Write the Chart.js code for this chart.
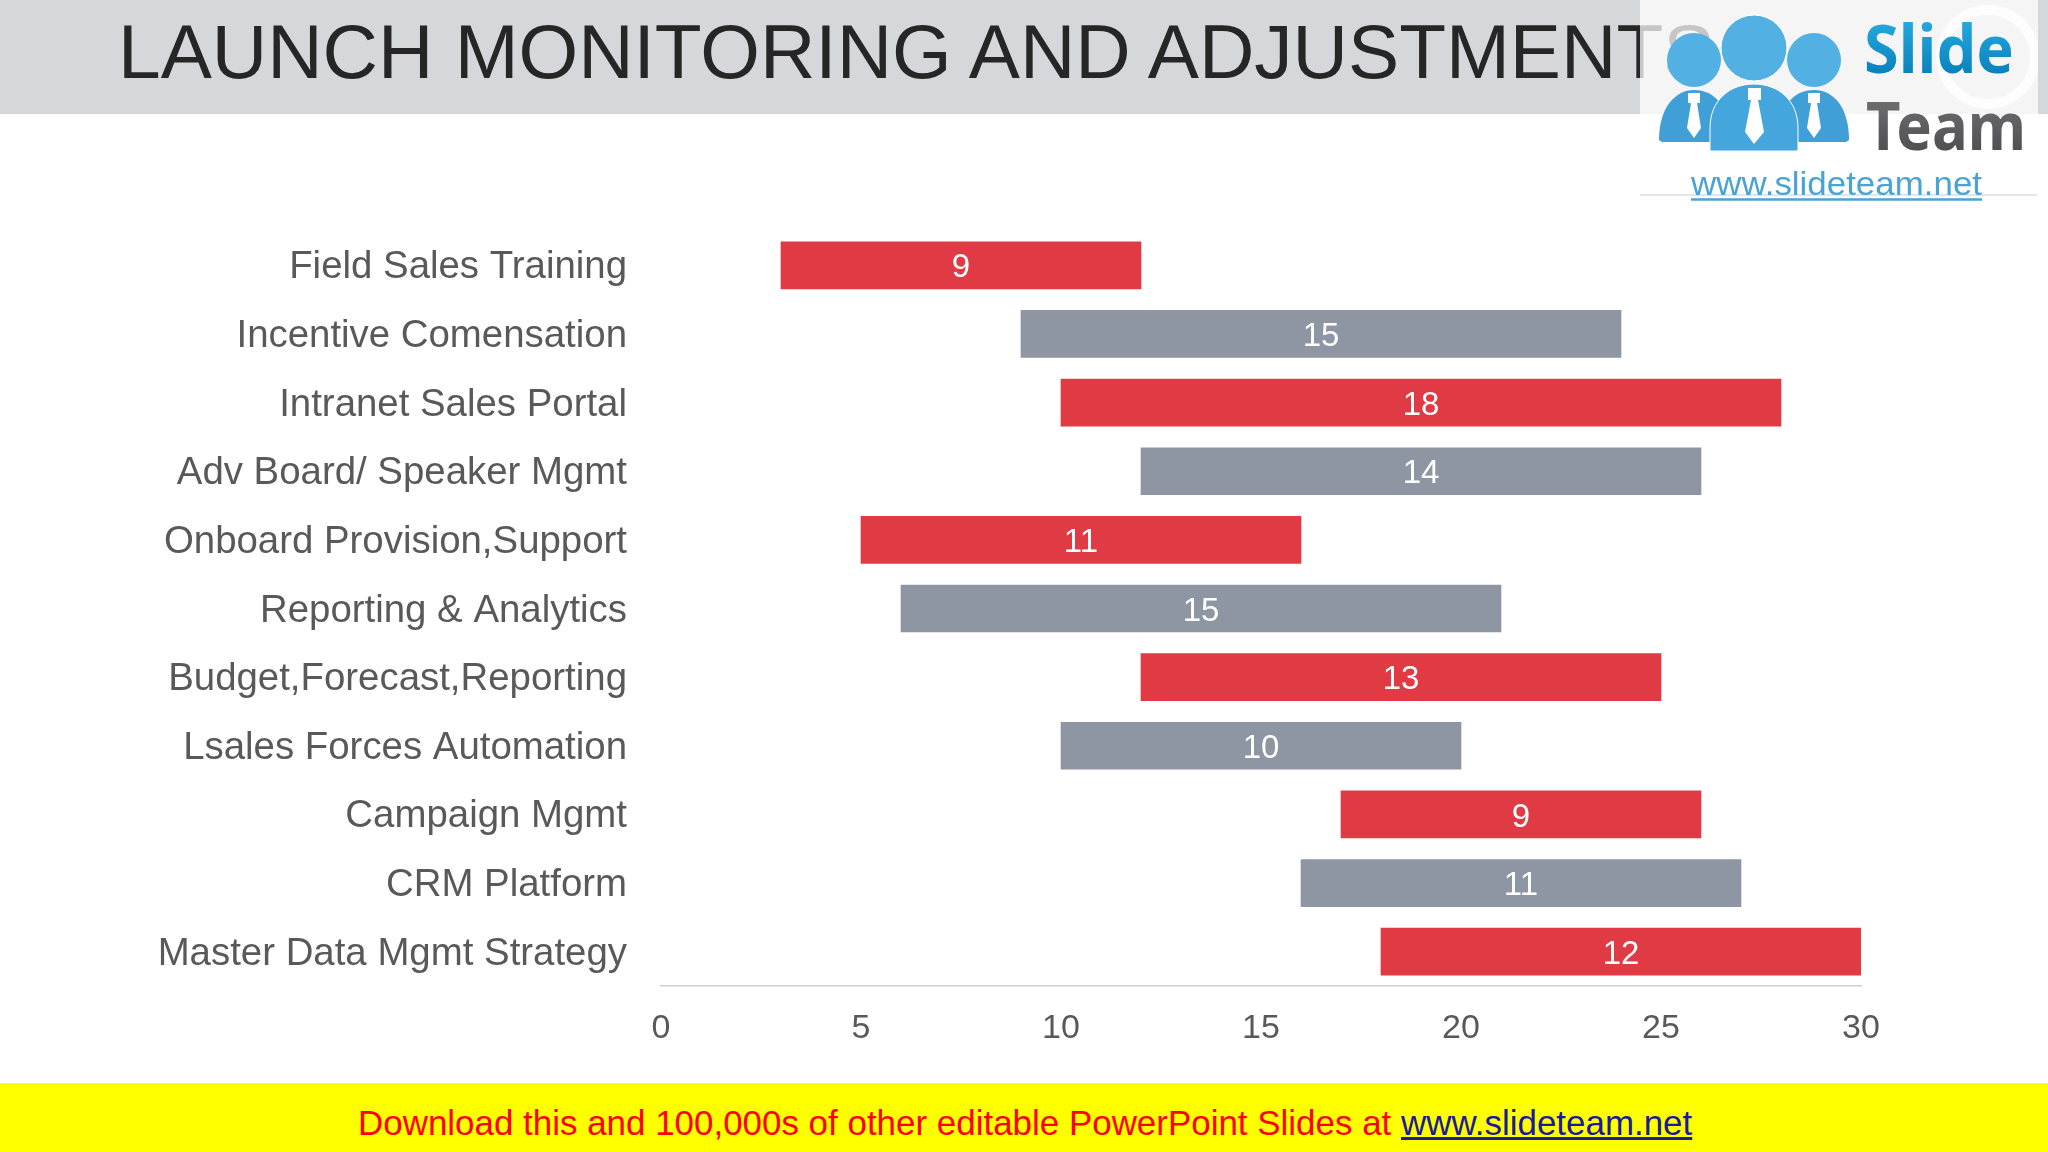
<!DOCTYPE html>
<html>
<head>
<meta charset="utf-8">
<title>Launch Monitoring and Adjustments</title>
<script src="https://cdn.jsdelivr.net/npm/chart.js@4"></script>
<style>
    html, body { margin: 0; padding: 0; background: #fff; }
    body { width: 2048px; height: 1152px; position: relative; overflow: hidden; font-family: "Liberation Sans", Arial, sans-serif; }
    #header { position: absolute; left: 0; top: 0; width: 2048px; height: 114px; background: #d6d7da; }
    #title { position: absolute; left: 118px; top: 8px; font-size: 76.7px; line-height: 88px; color: #262626; white-space: nowrap; }
    #chartBox { position: absolute; left: 0; top: 0; width: 2048px; height: 1083px; }
    #footer { position: absolute; left: 0; top: 1083px; width: 2048px; height: 69px; background: #ffff00; }
    #footerText { position: absolute; left: 358px; top: 20px; font-size: 34.95px; line-height: 40px; color: #ff0000; white-space: nowrap; }
    #footerText a { color: #1a1a9c; text-decoration: underline; }
    #logo { position: absolute; left: 1640px; top: 0; }
</style>
</head>
<body>
<div id="header"></div>
<div id="title">LAUNCH MONITORING AND ADJUSTMENTS</div>
<div id="chartBox"><canvas id="ganttChart"></canvas></div>

<svg id="logo" width="398" height="204" viewBox="1640 0 398 204">
    <defs>
        <linearGradient id="slideFill" x1="0" y1="0" x2="0" y2="1">
            <stop offset="0" stop-color="#2fb6ec"/><stop offset="1" stop-color="#0075b0"/>
        </linearGradient>
        <linearGradient id="teamFill" x1="0" y1="0" x2="0" y2="1">
            <stop offset="0" stop-color="#7a7a7c"/><stop offset="1" stop-color="#454547"/>
        </linearGradient>
    </defs>
    <rect x="1640" y="0" width="398" height="114" fill="#fff" fill-opacity="0.74"/>
    <rect x="1640" y="114" width="398" height="81" fill="#fff"/>
    <line x1="1640" y1="195" x2="2037" y2="195" stroke="#dcdcdc" stroke-width="1.5"/>
    <circle cx="1988" cy="57" r="47" fill="none" stroke="#fff" stroke-width="10" stroke-opacity="0.75"/>
    <!-- people -->
    <path d="M1659 140 C1659 108 1675 90 1694 90 C1716 90 1730 108 1730 142 L1662 142 Z" fill="#3f9fd6"/>
    <path d="M1778 142 C1778 108 1792 90 1814 90 C1834 90 1849 108 1849 140 L1846 142 Z" fill="#3f9fd6"/>
    <circle cx="1694" cy="60" r="27" fill="#52b0e3"/>
    <circle cx="1814" cy="60" r="27" fill="#52b0e3"/>
    <path d="M1710 151 L1710 128 C1710 100 1730 84 1754 84 C1778 84 1798 100 1798 128 L1798 151 Z" fill="#45a6dd" stroke="#fff" stroke-width="1"/>
    <circle cx="1754" cy="48" r="33" fill="#52b0e3" stroke="#fff" stroke-width="1"/>
    <path d="M1688 93 L1700 93 L1700 103 L1697 103 L1701 128 L1694 138 L1687 128 L1691 103 L1688 103 Z" fill="#fff"/>
    <path d="M1748 88 L1761 88 L1761 100 L1758 100 L1764 132 L1754 144 L1745 132 L1751 100 L1748 100 Z" fill="#fff"/>
    <path d="M1808 93 L1820 93 L1820 103 L1817 103 L1821 128 L1814 138 L1807 128 L1811 103 L1808 103 Z" fill="#fff"/>
    <text x="1864" y="73" font-family="Noto Sans, DejaVu Sans" font-weight="700" font-size="66" fill="url(#slideFill)" textLength="150" lengthAdjust="spacingAndGlyphs">Slide</text>
    <text x="1866" y="150" font-family="Noto Sans, DejaVu Sans" font-weight="700" font-size="66" fill="url(#teamFill)" textLength="160" lengthAdjust="spacingAndGlyphs">Team</text>
    <text x="1691" y="195" font-family="Liberation Sans" font-size="34" fill="#4aa3d3" textLength="291" lengthAdjust="spacingAndGlyphs">www.slideteam.net</text>
    <line x1="1691" y1="199.5" x2="1982" y2="199.5" stroke="#4aa3d3" stroke-width="2.5"/>
</svg>

<div id="footer">
    <div id="footerText">Download this and 100,000s of other editable PowerPoint Slides at <a href="#">www.slideteam.net</a></div>
</div>

<script>
document.addEventListener('DOMContentLoaded', () => {
    const categories = [
        'Field Sales Training',
        'Incentive Comensation',
        'Intranet Sales Portal',
        'Adv Board/ Speaker Mgmt',
        'Onboard Provision,Support',
        'Reporting & Analytics',
        'Budget,Forecast,Reporting',
        'Lsales Forces Automation',
        'Campaign Mgmt',
        'CRM Platform',
        'Master Data Mgmt Strategy'
    ];
    const startWeeks = [3, 9, 10, 12, 5, 6, 12, 10, 17, 16, 18];
    const durations = [9, 15, 18, 14, 11, 15, 13, 10, 9, 11, 12];
    const xTicks = [0, 5, 10, 15, 20, 25, 30];

    const RED = '#e03a45';
    const GREY = '#8f96a3';
    const TEXT = '#595959';
    const FONT = '"Liberation Sans", Arial, sans-serif';

    // Chart.js has no built-in data labels, so draw the durations on the bars
    const barLabels = {
        id: 'barLabels',
        afterDatasetsDraw(chart) {
            const ctx = chart.ctx;
            const meta = chart.getDatasetMeta(0);
            ctx.save();
            ctx.font = '33px ' + FONT;
            ctx.fillStyle = '#ffffff';
            ctx.textAlign = 'center';
            ctx.textBaseline = 'middle';
            meta.data.forEach((bar, i) => {
                ctx.fillText(durations[i], bar.x - (bar.x - bar.base) / 2, bar.y + 3);
            });
            ctx.restore();
        }
    };

    new Chart(document.getElementById('ganttChart').getContext('2d'), {
        type: 'bar',
        data: {
            labels: categories,
            datasets: [{
                data: startWeeks.map((s, i) => [s, s + durations[i]]),
                backgroundColor: categories.map((c, i) => (i % 2 === 0 ? RED : GREY)),
                barThickness: 47,
                borderSkipped: false
            }]
        },
        options: {
            indexAxis: 'y',
            responsive: true,
            maintainAspectRatio: false,
            animation: false,
            layout: { padding: { top: 231, right: 187, left: 0, bottom: 0 } },
            plugins: { legend: { display: false }, tooltip: { enabled: false } },
            scales: {
                x: {
                    min: 0,
                    max: 30,
                    afterFit(scale) { scale.height = 97; },
                    afterBuildTicks(scale) { scale.ticks = xTicks.map(v => ({ value: v })); },
                    grid: { display: false, drawTicks: false },
                    border: { display: true, color: '#cfcfcf', width: 1.5 },
                    ticks: { color: TEXT, font: { family: FONT, size: 34 }, padding: 22, maxRotation: 0 }
                },
                y: {
                    afterFit(scale) { scale.width = 661; },
                    grid: { display: false, drawTicks: false },
                    border: { display: false },
                    ticks: { color: TEXT, font: { family: FONT, size: 38.4 }, padding: 34, labelOffset: 2.5, autoSkip: false }
                }
            }
        },
        plugins: [barLabels]
    });
});
</script>
</body>
</html>
